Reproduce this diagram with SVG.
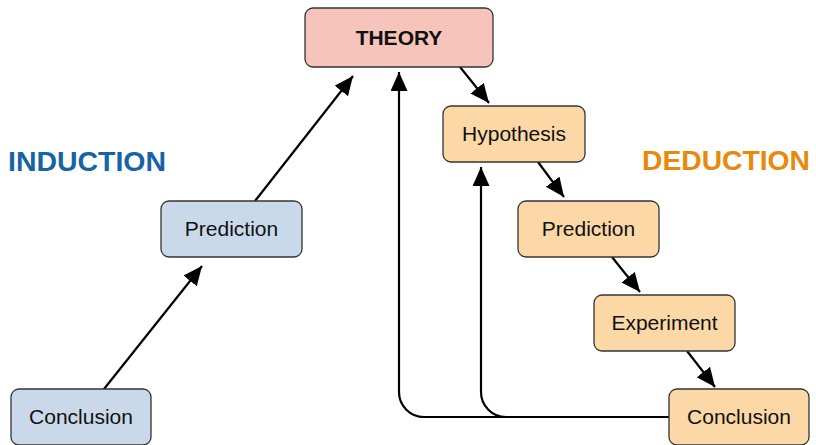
<svg xmlns="http://www.w3.org/2000/svg" width="816" height="445" viewBox="0 0 816 445">
<defs>
<marker id="ah" markerUnits="userSpaceOnUse" markerWidth="21" markerHeight="18" refX="19" refY="8.5" orient="auto">
<path d="M0,0 L19,8.5 L0,17 z" fill="#000"/>
</marker>
<style>
.box{stroke:#333;stroke-width:1.3}
.t{font-family:"Liberation Sans",Arial,sans-serif;font-size:21px;fill:#111;text-anchor:middle}
.b{font-weight:bold}
.c{fill:none;stroke:#000;stroke-width:2.2;marker-end:url(#ah)}
.ind{fill:#cad9ea}
.ded{fill:#fcd8a6}
</style>
</defs>
<rect width="816" height="445" fill="#fff"/>
<g id="connectors">
<path class="c" d="M104,389 L202,266"/>
<path class="c" d="M255,201 L353,76"/>
<path class="c" d="M669,417 L424,417 A25,25 0 0 1 399,392 L399,72"/>
<path class="c" d="M669,417 L506,417 A25,25 0 0 1 481,392 L481,167"/>
<path class="c" d="M460,67 L489,103"/>
<path class="c" d="M538,162 L564,197"/>
<path class="c" d="M612,257 L640,292"/>
<path class="c" d="M687,351 L715,387"/>
</g>
<g id="theory"><rect class="box" x="305" y="8" width="188" height="59" rx="8" fill="#f7c4bc"/><text class="t b" x="399" y="45">THEORY</text></g>
<g id="hypothesis"><rect class="box ded" x="443" y="106" width="142" height="56" rx="8"/><text class="t" x="514" y="141">Hypothesis</text></g>
<g id="ded-prediction"><rect class="box ded" x="518" y="201" width="141" height="56" rx="8"/><text class="t" x="588.5" y="236">Prediction</text></g>
<g id="experiment"><rect class="box ded" x="594" y="295" width="141" height="56" rx="8"/><text class="t" x="664.5" y="330">Experiment</text></g>
<g id="ded-conclusion"><rect class="box ded" x="669" y="389" width="140" height="56" rx="8"/><text class="t" x="739" y="424">Conclusion</text></g>
<g id="ind-prediction"><rect class="box ind" x="161" y="201" width="141" height="56" rx="8"/><text class="t" x="231.5" y="236">Prediction</text></g>
<g id="ind-conclusion"><rect class="box ind" x="11" y="389" width="140" height="56" rx="8"/><text class="t" x="81" y="424">Conclusion</text></g>
<g id="labels">
<text x="8" y="171" font-family="'Liberation Sans',Arial,sans-serif" font-weight="bold" font-size="27" fill="#1664a3" textLength="158" lengthAdjust="spacingAndGlyphs">INDUCTION</text>
<text x="642" y="170" font-family="'Liberation Sans',Arial,sans-serif" font-weight="bold" font-size="27" fill="#e8890c" textLength="168" lengthAdjust="spacingAndGlyphs">DEDUCTION</text>
</g>
</svg>
